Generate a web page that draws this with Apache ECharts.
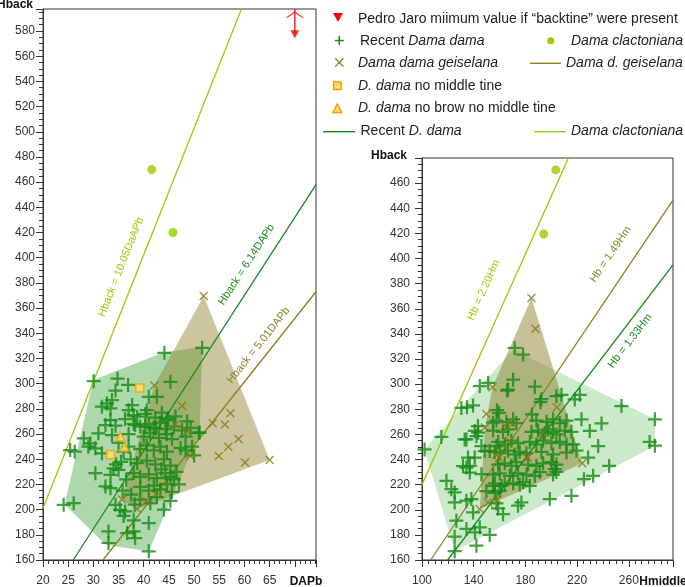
<!DOCTYPE html>
<html><head><meta charset="utf-8">
<script src="https://cdn.jsdelivr.net/npm/echarts@6/dist/echarts.min.js"></script>
<style>html,body{margin:0;padding:0;background:#fff}#c{width:685px;height:587px}</style>
</head><body><div id="c"></div><script>
// ---------------- DATA ----------------
// Left panel: DAPb (x) vs Hback (y)
const leftRecent = [
[30.05,302],[34.8,304],[36.9,299],[34.4,294.5],[44.1,324.5],[51.6,328.5],[45.3,301.5],[42.6,289.6],[41.0,289.6],[32.7,284.3],
[31.7,281.7],[33.4,280.3],[33.7,287],[37.7,283],[37.0,279],[40.6,279],[38.7,273.8],[36.3,271.9],[33.4,271.1],[32.4,267.1],
[34.4,266.6],[38.3,267.1],[40.3,265.9],[28.1,256.6],[29.4,252.6],[31.0,260.6],[33.7,259.2],[44.9,272.4],[42.4,264.5],[25.4,247.3],
[26.3,246],[29.0,250],[30.4,248.7],[31.7,244.7],[30.4,228.9],[33.4,227.5],[34.0,232.8],[35.0,231.5],[32.4,218.4],[33.4,217],
[24.1,203.8],[26.1,205.1],[34.4,203.8],[35.3,199.8],[36.3,198.6],[36.0,195],[38.0,191.4],[41.0,189.3],[33.0,182.7],[36.7,181.4],
[38.0,182.7],[38.3,177.4],[33.0,173.5],[41.0,166.9],[51.1,261.3],[35.0,253],[36.0,246],[35.5,238],[34.5,236],[36.5,224],
[35.8,215],[37.5,212],[38.2,204],[49.6,250],[50.0,243],[46.5,230],[47.0,220],[44.0,200],[43.5,232],
[38.0,275],[40.3,276],[42.3,273],[43.6,277],[44.6,271],[46.3,274],[48.6,270],
[38.0,268],[39.3,266],[41.0,268],[42.0,265],[43.2,269],[44.3,264],[46.0,266],[47.6,263],[49.3,265],
[37.0,260],[40.0,258],[41.3,261],[43.0,257],[44.6,260],[45.6,256],[48.3,258],[50.9,261],
[37.0,250],[39.3,248],[40.6,251],[42.0,247],[43.3,250],[44.6,246],[47.3,249],[48.3,247],
[37.4,240],[38.7,237],[40.6,239],[42.3,236],[44.0,240],[45.3,235],
[38.0,229],[39.3,226],[41.0,228],[42.6,225],[44.3,229],[45.3,226],[46.0,224],
[39.3,218],[41.0,215],[42.0,219],[43.3,216],[44.6,220],[45.6,214],
[39.3,208],[41.3,205],[42.6,210],[45.3,207]
];
const leftGeiselana = [
[51.9,369.6],[42.1,298.5],[47.6,282.5],[46.3,267.5],[48.6,262],[49.3,242.5],[53.7,268.5],[56.1,267.5],[57.2,276.5],
[56.8,250],[58.8,256],[54.9,242.5],[60.1,237.5],[65.0,239.5],[35.7,208],[38.7,200.5],[40.5,206.5]
];
const leftClactoniana = [[41.6,470],[45.8,420]];
const leftNoMiddle = [[39.2,296.5],[33.4,243.5]];
const leftNoBrow = [[35.35,258],[36.15,250]];
const pedroJaro = [[70,577.5]];
const pedroJaroTop = [[70,597.5]];
const leftRecentLine = [[26,160],[74.2,458]];
const leftGeiselLine = [[31.9,160],[74.2,373]];
const leftClactoLine = [[20,201],[59.4,597.5]];
const leftRecentHull = [[24.3,204],[30,303],[44,325],[51.6,329],[51.1,261],[41,167],[32.5,172]];
const leftGeiselHull = [[51.9,369.6],[65,239.5],[38.7,200.5],[35.7,208],[42.1,298.5]];

// Right panel: Hmiddle (x) vs Hback (y)
const rightRecent = [
[102,248],[115,258],[130.5,281],[134.8,281.5],[139.5,283],[134.4,256],[144.7,298.5],[151.2,301],[166.6,295.7],[170.5,303.5],
[171.7,328.8],[178.2,323.5],[187.3,298],[192.4,288],[204,290.4],[207.9,291.5],[218.2,287.8],[222.1,291.5],[254.3,282.5],[280.2,272],
[276.1,254],[280.2,251],[223.4,272],[229.8,262.7],[238.9,268.7],[236.3,250.7],[228.5,241.5],[244.8,234.9],[225.3,224.3],[232.4,227],
[215.6,211.1],[198.9,208.5],[202.7,232.3],[200.1,238],[118.9,223],[122.7,216.4],[125.3,213.8],[125.3,205.8],[126.6,191.3],[125.3,178.6],
[125.3,167],[134.4,207.2],[138.2,208.5],[134.4,184.7],[141,182],[139.5,197.9],[144.7,186],[142.1,171.4],[152.4,180],[134.4,233.6],
[137,234.9],[140.8,241.5],[137,229.6],[140.8,262.7],[142.1,258.6],[143.4,261.3],[146,250.7],[152.4,246.8],[157.6,250.7],[149.8,214.8],
[156.3,213.5],[157.6,205],[158.9,201],[174.3,203.2],[176.9,205.8],[158,279.3],[159.6,277.2],[165.8,294.9],[185.1,275.9],[143.3,266.6],
[155,269.3],[191.6,285.6],[133,256],[148.5,246.7],[135.6,241.5],[131.7,234.8],[146,228.3],[155,219],[160.1,215],[164,220.3],
[162.7,196.5],[211.8,245.5],[216.9,252],[204,230.1],
[157.6,271],[165.3,270],[170.5,272],[173,269],[188.5,271],[196.3,270],[201.4,272],[206.6,269],[211.8,271],
[155,263],[162.7,262],[166.6,264],[184.7,262],[189.8,263],[195,261],[197.6,264],[201.4,262],[204,260],[210.5,263],[215.6,262],
[158.9,254],[164,252],[169.2,255],[174.3,253],[183.4,254],[188.5,252],[193.7,255],[200.1,253],[206.6,254],[211.8,252],
[156.3,246],[160.2,245],[166.6,247],[171.7,244],[175.6,246],[180.8,245],[192.4,246],[201.4,244],[219.5,247],
[158.9,236],[164,237],[169.2,235],[173,238],[182.1,236],[188.5,235],[193.7,237],[204,236],
[155,228],[160.2,229],[167.9,227],[174.3,229],[180.8,228],[187.3,227],[191.1,230],[201.4,228],
[156.3,221],[161.5,219],[170.5,221],[175.6,220],[178.2,222],[183.4,219]
];
const rightGeiselana = [
[184.7,368.5],[187.8,344],[204.3,281.5],[224,237],[154.5,297.5],[149.8,276.2],[148.8,265.5],[164,267],[170,268],
[167.8,254.7],[182,241.5],[159.6,241.5],[193.7,261.3],[144.7,200.5],[151.2,205.8],[158.5,208],[157.6,244],[180.8,241.5]
];
const rightClactoniana = [[203.5,470.5],[194.2,419.5]];
const rightRecentLine = [[119.8,160],[294.2,395]];
const rightGeiselLine = [[106.7,160],[294.2,446.5]];
const rightClactoLine = [[100,220],[213.3,480]];
const rightRecentHull = [[102,248],[130.5,281.5],[171.7,328.8],[178.2,323.5],[280.2,272],[280.2,251],[125.3,167]];
const rightGeiselHull = [[184.7,368.5],[224,237],[144.7,200.5],[148.8,265.5],[154.5,297.5]];

// tick labels
const leftXTicks = [20,25,30,35,40,45,50,55,60,65];
const leftYTicks = [160,180,200,220,240,260,280,300,320,340,360,380,400,420,440,460,480,500,520,540,560,580];
const rightXTicks = [100,140,180,220,260];
const rightYTicks = [160,180,200,220,240,260,280,300,320,340,360,380,400,420,440,460];

// legend entries (text)
const legendLabels = {
  pedro: 'Pedro Jaro miimum value if “backtine” were present',
  recent: 'Recent {i|Dama dama}',
  clacto: '{i|Dama clactoniana}',
  geisel: '{i|Dama dama geiselana}',
  geiselLine: '{i|Dama d. geiselana}',
  noMiddle: '{i|D. dama} no middle tine',
  noBrow: '{i|D. dama} no brow no middle tine',
  recentLine: 'Recent {i|D. dama}',
  clactoLine: '{i|Dama clactoniana}'
};

// ---------------- STYLE ----------------
const FONT = '"Liberation Sans", Arial, sans-serif';
const GREEN = '#158a15', GREEN_LINE = '#1a8a1a', OLIVE = '#857714', OLIVE_LINE = '#8c8020', LIME = '#99cc00', RED = '#ff0000';
const YEL = '#ffe070', ORANGE = '#f5a000';
const PLUS = 'path://M-1.6,-10 L1.6,-10 L1.6,-1.6 L10,-1.6 L10,1.6 L1.6,1.6 L1.6,10 L-1.6,10 L-1.6,1.6 L-10,1.6 L-10,-1.6 L-1.6,-1.6 Z';
const CROSS = 'path://M-10,-7.8 L-7.8,-10 L0,-2.2 L7.8,-10 L10,-7.8 L2.2,0 L10,7.8 L7.8,10 L0,2.2 L-7.8,10 L-10,7.8 L-2.2,0 Z';
const TRI_DOWN = 'path://M0,0 L10,0 L5,9 Z';
const CHEVRON = 'path://M0,10 L9,0 L18,10 L16.6,10.9 L9,2.4 L1.4,10.9 Z';

const chart = echarts.init(document.getElementById('c'), null, {renderer: 'canvas'});

function hull(name, pts, gi, fill) {
  return {
    type: 'custom', name: name, xAxisIndex: gi, yAxisIndex: gi, z: 1, silent: true,
    data: pts,
    renderItem: function (params, api) {
      if (params.dataIndex !== 0) return;
      return { type: 'polygon', shape: { points: pts.map(p => api.coord(p)) }, style: { fill: fill, stroke: null } };
    }
  };
}
function line(name, pts, gi, color) {
  return { type: 'line', name: name, xAxisIndex: gi, yAxisIndex: gi, data: pts, symbol: 'none', z: 2,
    lineStyle: { color: color, width: 1.3 }, itemStyle: { color: color }, silent: true, clip: true };
}
function scat(name, pts, gi, symbol, size, style) {
  return { type: 'scatter', name: name, xAxisIndex: gi, yAxisIndex: gi, data: pts, symbol: symbol, symbolSize: size, z: 3,
    symbolKeepAspect: true, itemStyle: style, silent: true, clip: false };
}
function xAxis(gi, min, max, interval, minorSplit, ticks) {
  return { type: 'value', gridIndex: gi, min: min, max: max, interval: interval,
    axisLine: { show: true, onZero: false, lineStyle: { color: '#333', width: 1 } },
    axisTick: { show: true, length: 7, lineStyle: { color: '#333' } },
    minorTick: { show: true, splitNumber: minorSplit, length: 4, lineStyle: { color: '#333' } },
    splitLine: { show: false },
    axisLabel: { margin: 15, color: '#333', fontSize: 12, fontFamily: FONT, showMaxLabel: false,
      formatter: v => ticks.indexOf(Math.round(v * 100) / 100) >= 0 ? String(v) : '' } };
}
function yAxis(gi, min, max, interval, margin, ticks) {
  return { type: 'value', gridIndex: gi, min: min, max: max, interval: interval,
    axisLine: { show: true, onZero: false, lineStyle: { color: '#333', width: 1 } },
    axisTick: { show: true, length: 7, lineStyle: { color: '#333' } },
    minorTick: { show: true, splitNumber: 4, length: 4, lineStyle: { color: '#333' } },
    splitLine: { show: false },
    axisLabel: { margin: margin, color: '#333', fontSize: 12, fontFamily: FONT, showMaxLabel: false,
      formatter: v => ticks.indexOf(Math.round(v * 100) / 100) >= 0 ? String(v) : '' } };
}

// legend drawn as graphic (icon + rich text)
const LFONT = '14px ' + FONT;
function ltext(id, key, x, y) {
  return { type: 'text', id: id, x: x, y: y, z: 20,
    style: { text: legendLabels[key], font: LFONT, fill: '#222', align: 'left', verticalAlign: 'middle',
      rich: { i: { fontStyle: 'italic', fontSize: 14, fontFamily: FONT, fill: '#222' } } } };
}
function lline(id, x1, x2, y, color) {
  return { type: 'line', id: id, z: 20, shape: { x1: x1, y1: y, x2: x2, y2: y }, style: { stroke: color, lineWidth: 1.4 } };
}
const legendGraphics = [
  { type: 'polygon', id: 'li1', z: 20, shape: { points: [[333, 13], [343, 13], [338, 22]] }, style: { fill: RED } },
  ltext('lt1', 'pedro', 358, 19),
  lline('li2a', 334.8, 343.8, 40.5, GREEN), { type: 'line', id: 'li2b', z: 20, shape: { x1: 339.3, y1: 36, x2: 339.3, y2: 45 }, style: { stroke: GREEN, lineWidth: 1.6 } },
  ltext('lt2', 'recent', 360, 41),
  { type: 'circle', id: 'li3', z: 20, shape: { cx: 550.7, cy: 40.7, r: 3.5 }, style: { fill: LIME } },
  ltext('lt3', 'clacto', 571, 41),
  { type: 'line', id: 'li4a', z: 20, shape: { x1: 335.2, y1: 58.4, x2: 343.4, y2: 66.6 }, style: { stroke: OLIVE, lineWidth: 1.3 } },
  { type: 'line', id: 'li4b', z: 20, shape: { x1: 335.2, y1: 66.6, x2: 343.4, y2: 58.4 }, style: { stroke: OLIVE, lineWidth: 1.3 } },
  ltext('lt4', 'geisel', 358, 63),
  lline('li5', 530, 561, 63.3, OLIVE_LINE),
  ltext('lt5', 'geiselLine', 566, 63),
  { type: 'rect', id: 'li6', z: 20, shape: { x: 333.6, y: 82, width: 7.5, height: 7.5 }, style: { fill: YEL, stroke: ORANGE, lineWidth: 1.5 } },
  ltext('lt6', 'noMiddle', 358, 86),
  { type: 'polygon', id: 'li7', z: 20, shape: { points: [[337.3, 104.2], [341.6, 112.5], [333, 112.5]] }, style: { fill: YEL, stroke: ORANGE, lineWidth: 1.5 } },
  ltext('lt7', 'noBrow', 358, 108),
  lline('li8', 323, 355, 131.7, GREEN_LINE),
  ltext('lt8', 'recentLine', 360.5, 131),
  lline('li9', 534.3, 565.7, 131.7, LIME),
  ltext('lt9', 'clactoLine', 571, 131)
];

const option = {
  animation: false,
  backgroundColor: '#fff',
  grid: [
    { left: 43, top: 9, width: 273, height: 553, show: true, borderColor: '#333', borderWidth: 1, backgroundColor: 'transparent' },
    { left: 422, top: 158, width: 251, height: 403, show: true, borderColor: '#333', borderWidth: 1, backgroundColor: 'transparent' }
  ],
  xAxis: [ xAxis(0, 20, 74.2, 5, 5, leftXTicks), xAxis(1, 100, 294.2, 40, 8, rightXTicks) ],
  yAxis: [ yAxis(0, 160, 597.5, 20, 8, leftYTicks), yAxis(1, 160, 480, 20, 12, rightYTicks) ],
  series: [
    hull('hullRecentL', leftRecentHull, 0, 'rgba(70,168,70,0.45)'),
    hull('hullGeiselL', leftGeiselHull, 0, 'rgba(140,128,40,0.45)'),
    hull('hullRecentR', rightRecentHull, 1, 'rgba(80,185,80,0.3)'),
    hull('hullGeiselR', rightGeiselHull, 1, 'rgba(140,125,40,0.48)'),
    line('clactoLine', leftClactoLine, 0, LIME),
    line('recentLine', leftRecentLine, 0, GREEN_LINE),
    line('geiselLine', leftGeiselLine, 0, OLIVE_LINE),
    line('clactoLine', rightClactoLine, 1, LIME),
    line('recentLine', rightRecentLine, 1, GREEN_LINE),
    line('geiselLine', rightGeiselLine, 1, OLIVE_LINE),
    line('pedroStem', [pedroJaro[0], pedroJaroTop[0]], 0, RED),
    scat('recent', leftRecent, 0, PLUS, 14, { color: GREEN }),
    scat('recent', rightRecent, 1, PLUS, 14, { color: GREEN }),
    scat('geisel', leftGeiselana, 0, CROSS, 9, { color: OLIVE }),
    scat('geisel', rightGeiselana, 1, CROSS, 9, { color: OLIVE }),
    scat('clacto', leftClactoniana, 0, 'circle', 9, { color: LIME }),
    scat('clacto', rightClactoniana, 1, 'circle', 9, { color: LIME }),
    scat('noMiddle', leftNoMiddle, 0, 'rect', 8, { color: YEL, borderColor: ORANGE, borderWidth: 1.5 }),
    scat('noBrow', leftNoBrow, 0, 'triangle', 9, { color: YEL, borderColor: ORANGE, borderWidth: 1.5 }),
    scat('pedro', pedroJaro, 0, TRI_DOWN, [9, 9], { color: RED }),
    scat('pedroTop', [[70, 593]], 0, CHEVRON, [18, 11], { color: RED })
  ],
  graphic: [
    { type: 'text', id: 't1', x: 33, y: 5, style: { text: 'Hback', font: 'bold 12px ' + FONT, fill: '#111', align: 'right', verticalAlign: 'middle' } },
    { type: 'text', id: 't2', x: 407, y: 156, style: { text: 'Hback', font: 'bold 12px ' + FONT, fill: '#111', align: 'right', verticalAlign: 'middle' } },
    { type: 'text', id: 't3', x: 306, y: 582, style: { text: 'DAPb', font: 'bold 12px ' + FONT, fill: '#111', align: 'center', verticalAlign: 'middle' } },
    { type: 'text', id: 't4', x: 663, y: 582, style: { text: 'Hmiddle', font: 'bold 12px ' + FONT, fill: '#111', align: 'center', verticalAlign: 'middle' } }
  ].concat(legendGraphics)
};
chart.setOption(option);

// labels along regression lines
const lineLabels = [
  { grid: 0, text: 'Hback = 10.05DaAPb', at: [35.5, 392.5], line: leftClactoLine, color: LIME },
  { grid: 0, text: 'Hback = 6.14DAPb', at: [60.4, 394.5], line: leftRecentLine, color: GREEN_LINE },
  { grid: 0, text: 'Hback = 5.01DAPb', at: [62.8, 330.5], line: leftGeiselLine, color: OLIVE_LINE },
  { grid: 1, text: 'Hb = 2.20Hm', at: [147.8, 374.8], line: rightClactoLine, color: LIME },
  { grid: 1, text: 'Hb = 1.49Hm', at: [245.9, 403.3], line: rightGeiselLine, color: OLIVE_LINE },
  { grid: 1, text: 'Hb = 1.33Hm', at: [261, 334.4], line: rightRecentLine, color: GREEN_LINE }
];
const labelGraphics = lineLabels.map((l, i) => {
  const p = chart.convertToPixel({ gridIndex: l.grid }, l.at);
  const a = chart.convertToPixel({ gridIndex: l.grid }, l.line[0]);
  const b = chart.convertToPixel({ gridIndex: l.grid }, l.line[1]);
  const rot = Math.atan2(-(b[1] - a[1]), b[0] - a[0]);
  return { type: 'text', id: 'lbl' + i, x: p[0], y: p[1], rotation: rot, z: 10,
    style: { text: l.text, font: '11px ' + FONT, fill: l.color, align: 'center', verticalAlign: 'middle' } };
});
chart.setOption({ graphic: labelGraphics });
</script></body></html>
